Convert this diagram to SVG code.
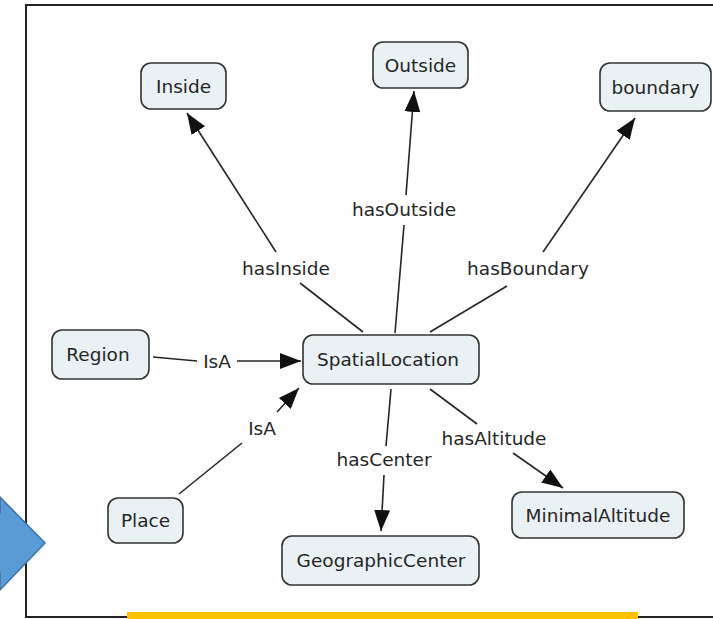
<svg xmlns="http://www.w3.org/2000/svg" width="713" height="619" viewBox="0 0 713 619">
<defs>
<style>
.node rect{fill:#eaf1f4;stroke:#333;stroke-width:1.6}
.node text,.lbl{font-family:"DejaVu Sans","Verdana",sans-serif;font-size:18.5px;fill:#262626;text-anchor:middle}
.conn path{fill:none;stroke:#262626;stroke-width:1.6}
</style>
<marker id="ah" markerUnits="userSpaceOnUse" markerWidth="22" markerHeight="18" refX="21" refY="8" orient="auto" viewBox="0 0 22 16">
<path d="M0,0 L21,8 L0,16 z" fill="#111"/>
</marker>
</defs>
<rect x="0" y="0" width="713" height="619" fill="#fff"/>
<path d="M713,5 H26 V617 H713" fill="none" stroke="#222" stroke-width="2"/>
<rect x="127" y="612" width="511" height="7" fill="#ffc000"/>
<polygon points="-20,513 0,513 0,497 45,543 0,590 0,573 -20,573" fill="#5b9bd5" stroke="#41719c" stroke-width="1.5"/>
<g class="conn" id="connectors">
<path d="M153,357 L197,361"/>
<path d="M237,361 L301,361" marker-end="url(#ah)"/>
<text class="lbl" x="217" y="368">IsA</text>
<path d="M179,494 L242,443"/>
<path d="M277,412 L299,388" marker-end="url(#ah)"/>
<text class="lbl" x="262" y="435">IsA</text>
<path d="M363,332 L300,283"/>
<path d="M276,252 L187,113" marker-end="url(#ah)"/>
<text class="lbl" x="286" y="275">hasInside</text>
<path d="M395,333 L404,225"/>
<path d="M406,195 L414,91" marker-end="url(#ah)"/>
<text class="lbl" x="404" y="216">hasOutside</text>
<path d="M430,332 L507,286"/>
<path d="M543,252 L635,118" marker-end="url(#ah)"/>
<text class="lbl" x="528" y="275">hasBoundary</text>
<path d="M391,389 L386,446"/>
<path d="M384,475 L381,531" marker-end="url(#ah)"/>
<text class="lbl" x="384" y="466">hasCenter</text>
<path d="M430,389 L477,424"/>
<path d="M513,453 L563,488" marker-end="url(#ah)"/>
<text class="lbl" x="494" y="445">hasAltitude</text>
</g>
<g class="node" id="inside"><rect x="141" y="63" width="85" height="46" rx="10"/><text x="183.5" y="92.5">Inside</text></g>
<g class="node" id="outside"><rect x="373" y="42" width="95" height="46" rx="10"/><text x="420.5" y="71.5">Outside</text></g>
<g class="node" id="boundary"><rect x="600" y="63" width="111" height="48" rx="10"/><text x="655.5" y="93.5">boundary</text></g>
<g class="node" id="region"><rect x="52" y="330" width="97" height="49" rx="10"/><text x="98" y="361">Region</text></g>
<g class="node" id="spatiallocation"><rect x="303" y="335" width="176" height="49" rx="10"/><text x="388" y="366">SpatialLocation</text></g>
<g class="node" id="place"><rect x="108" y="498" width="75" height="45" rx="10"/><text x="145.5" y="527">Place</text></g>
<g class="node" id="geographiccenter"><rect x="282" y="536" width="197" height="49" rx="10"/><text x="381" y="567">GeographicCenter</text></g>
<g class="node" id="minimalaltitude"><rect x="512" y="492" width="172" height="46" rx="10"/><text x="598" y="521.5">MinimalAltitude</text></g>
</svg>
